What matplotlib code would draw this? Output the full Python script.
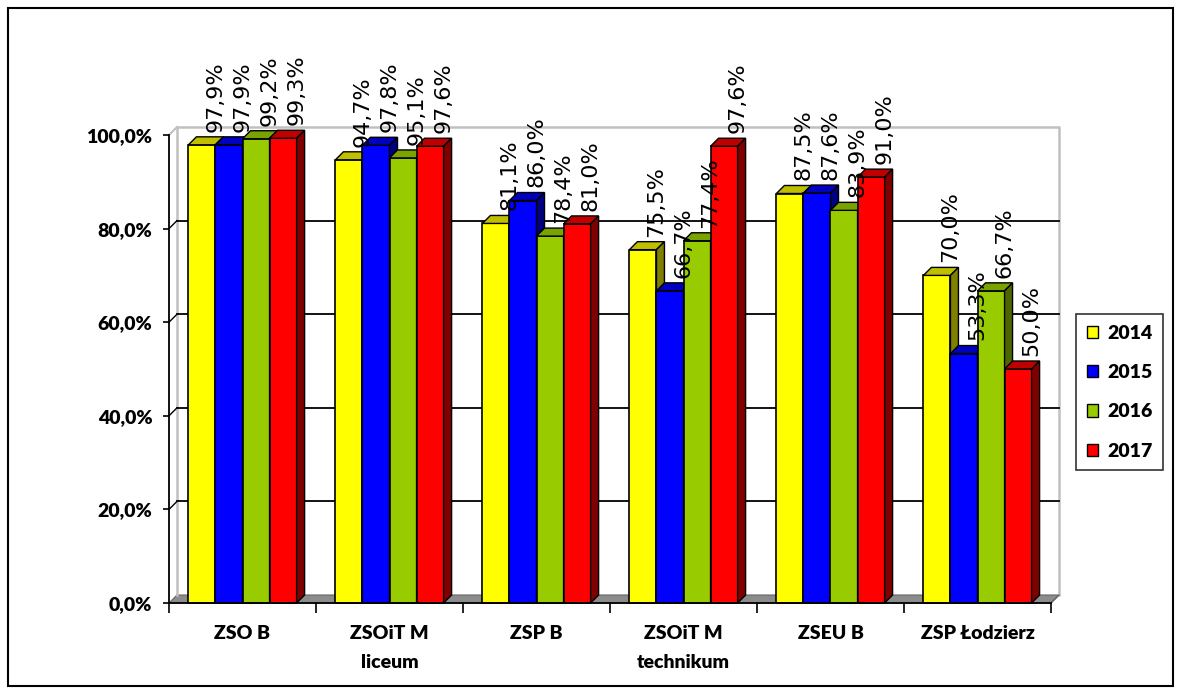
import matplotlib
matplotlib.use('Agg')
import matplotlib.pyplot as plt
from matplotlib.patches import Patch, Rectangle
from matplotlib.ticker import FuncFormatter, FixedLocator

# data
schools = ['ZSO B', 'ZSOiT M\nliceum', 'ZSP B', 'ZSOiT M\ntechnikum', 'ZSEU B', 'ZSP Łodzierz']
years = ['2014', '2015', '2016', '2017']
v2014 = [97.9, 94.7, 81.1, 75.5, 87.5, 70.0]
v2015 = [97.9, 97.8, 86.0, 66.7, 87.6, 53.3]
v2016 = [99.2, 95.1, 78.4, 77.4, 83.9, 66.7]
v2017 = [99.3, 97.6, 81.0, 97.6, 91.0, 50.0]
yticks = [0, 20, 40, 60, 80, 100]

front_colors = ['#FFFF00', '#0000FF', '#99CC00', '#FF0000']
top_colors = ['#BFBF00', '#0000BF', '#7AA300', '#BF0000']
side_colors = ['#808000', '#000080', '#4D6600', '#800000']


def pct(v, pos=None):
    return f'{v:.1f}%'.replace('.', ',')


def draw_chart():
    series = [v2014, v2015, v2016, v2017]
    fig = plt.figure(figsize=(11.81, 6.94), dpi=100)
    ax = fig.add_axes([169 / 1181, 1 - 603 / 694, 882 / 1181, 468 / 694])
    ax.set_xlim(-0.5, len(schools) - 0.5)
    ax.set_ylim(0, 100)

    # 3D offset in data units (~8 px)
    dx = 8 / 147
    dy = 8 / 4.68
    x0, x1 = -0.5, len(schools) - 0.5

    # floor
    ax.fill([x0, x1, x1 + dx, x0 + dx], [0, 0, dy, dy], color='#8C8C8C',
            edgecolor='#666666', lw=0.8, zorder=1, clip_on=False)
    # back wall gridlines + left wall diagonals
    for t in yticks[1:-1]:
        ax.plot([x0 + dx, x1 + dx], [t + dy, t + dy], color='black', lw=1.3, zorder=1.5, clip_on=False)
        ax.plot([x0, x0 + dx], [t, t + dy], color='black', lw=1.0, zorder=1.5, clip_on=False)
    wall = '#C0C0C0'
    ax.plot([x0 + dx, x0 + dx, x1 + dx, x1 + dx], [dy, 100 + dy, 100 + dy, dy],
            color=wall, lw=1.8, zorder=1.4, clip_on=False)
    ax.plot([x0, x0 + dx], [100, 100 + dy], color=wall, lw=1.5, zorder=1.4, clip_on=False)
    ax.plot([x1, x1 + dx], [0, dy], color='#666666', lw=1.0, zorder=1.4, clip_on=False)

    w = 0.184
    for j, vals in enumerate(series):
        z = 3 + j * 0.1
        xs = [i + (j - 1.5) * w for i in range(len(schools))]
        ax.bar(xs, vals, width=w, color=front_colors[j], edgecolor='black',
               linewidth=1.2, zorder=z, clip_on=False)
        for x, v in zip(xs, vals):
            l, r = x - w / 2, x + w / 2
            ax.fill([l, r, r + dx, l + dx], [v, v, v + dy, v + dy], color=top_colors[j],
                    edgecolor='black', lw=1.0, zorder=z + 0.05, clip_on=False)
            ax.fill([r, r + dx, r + dx, r], [0, dy, v + dy, v], color=side_colors[j],
                    edgecolor='black', lw=1.0, zorder=z + 0.05, clip_on=False)
            ax.text(x + 0.09, v + 2.8, pct(v), rotation=90, ha='center', va='bottom',
                    fontsize=16, family='DejaVu Sans', zorder=10, clip_on=False)

    # axes styling
    for s in ['top', 'right']:
        ax.spines[s].set_visible(False)
    ax.spines['left'].set_linewidth(1.3)
    ax.spines['bottom'].set_linewidth(1.3)
    ax.spines['left'].set_zorder(5)
    ax.spines['bottom'].set_zorder(5)
    ax.set_yticks(yticks)
    ax.yaxis.set_major_formatter(FuncFormatter(pct))
    ax.tick_params(axis='y', length=4, width=1.2, pad=8)
    ax.set_xticks(range(len(schools)))
    ax.set_xticklabels(schools, linespacing=1.85)
    ax.xaxis.set_minor_locator(FixedLocator([i - 0.5 for i in range(len(schools) + 1)]))
    ax.tick_params(axis='x', which='major', length=0, pad=16)
    ax.tick_params(axis='x', which='minor', length=7, width=1.2)
    for lab in ax.get_xticklabels() + ax.get_yticklabels():
        lab.set_family('Lato')
        lab.set_fontweight('heavy')
        lab.set_fontsize(14)
    ax.patch.set_visible(False)

    # legend
    handles = [Patch(facecolor=c, edgecolor='black', lw=1.0) for c in front_colors]
    leg = fig.legend(handles, years, loc='upper left', bbox_to_anchor=(1076 / 1181, 1 - 314 / 694),
                     borderaxespad=0, frameon=True, fancybox=False, edgecolor='black',
                     handlelength=0.6, handleheight=0.6, handletextpad=0.45, labelspacing=1.15,
                     borderpad=0.55, prop={'family': 'Lato', 'weight': 'heavy', 'size': 14})
    leg.get_frame().set_linewidth(1.2)

    # outer border
    fig.patches.append(Rectangle((8 / 1181, 8 / 694), 1165 / 1181, 678 / 694, transform=fig.transFigure,
                                 fill=False, edgecolor='black', lw=1.5))
    fig.savefig('out.png', dpi=100)


if __name__ == '__main__':
    draw_chart()
